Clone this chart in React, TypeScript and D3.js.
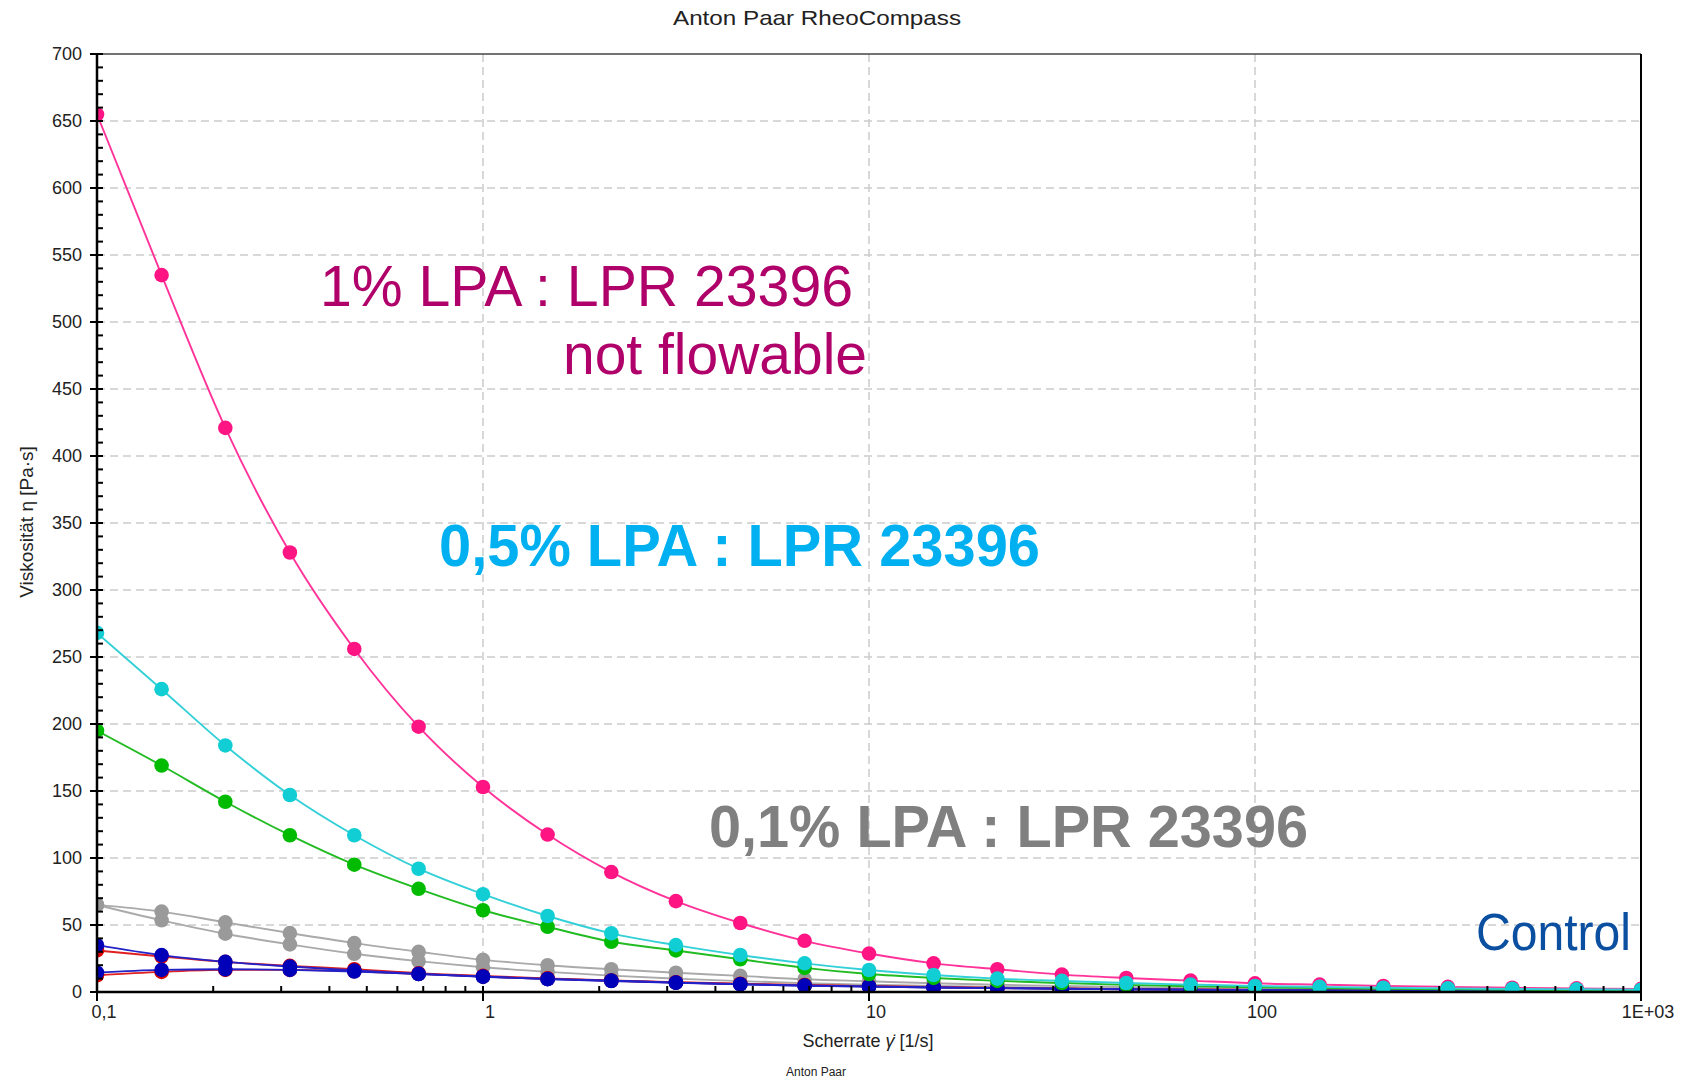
import { useEffect, useRef } from "react";
import * as d3 from "d3";

// shear rates, 6 points per decade
const shearRates = [
	0.1, 0.147, 0.215, 0.316, 0.464, 0.681, 1, 1.47, 2.15, 3.16, 4.64, 6.81, 10,
	14.7, 21.5, 31.6, 46.4, 68.1, 100, 147, 215, 316, 464, 681, 1000,
];

// viscosity values [Pa·s]
const lpa1 = [
	655, 535, 421, 328, 256, 198, 153, 117.5, 89.5, 67.8, 51.5, 38.2, 28.7, 21.4,
	17, 13, 10.5, 8.5, 6.5, 5.5, 4.5, 3.8, 3.2, 2.7, 2.3,
];
const lpa05 = [
	268, 226, 184, 147, 117, 92, 73, 56.7, 43.8, 35, 27.6, 21.4, 16.4, 12.7, 10,
	8.3, 6.7, 5.5, 4.5, 3.8, 3.2, 2.7, 2.3, 2, 1.7,
];
const lpa05b = [
	195, 169, 142, 117, 95, 77, 61, 48.7, 37.5, 31, 24.4, 18, 13.4, 10.5, 8.3,
	6.7, 5.3, 4.3, 3.5, 2.9, 2.4, 2, 1.7, 1.4, 1.2,
];
const lpa01a = [
	65, 60, 52, 44, 36.5, 30, 24, 20, 17, 14.4, 12, 9.5, 8, 6.5, 5.4, 4.5, 3.7,
	3.1, 2.6, 2.2, 1.9, 1.6, 1.4, 1.2, 1,
];
const lpa01b = [
	65, 53.5, 43.5, 35.5, 28.5, 23, 18.5, 15, 12.2, 10, 8.1, 6.6, 5.4, 4.5, 3.7,
	3.1, 2.6, 2.2, 1.8, 1.6, 1.4, 1.2, 1.05, 0.95, 0.85,
];
const controlRedA = [
	31, 26.5, 22.5, 19.5, 17, 14, 12, 10.2, 8.6, 7.3, 6.2, 5.2, 4.4, 3.7, 3.1,
	2.6, 2.2, 1.9, 1.6, 1.4, 1.2, 1.05, 0.95, 0.85, 0.75,
];
const controlRedB = [
	12.5, 15, 16.5, 16.5, 15.5, 13.5, 11.5, 9.9, 8.4, 7.1, 6, 5.1, 4.3, 3.6, 3,
	2.5, 2.1, 1.8, 1.55, 1.35, 1.15, 1, 0.9, 0.8, 0.7,
];
const controlBlueA = [
	35, 27.5, 22.5, 19, 16, 13.5, 11.4, 9.7, 8.5, 7, 5.7, 4.7, 4, 3.4, 2.9, 2.4,
	2, 1.7, 1.45, 1.25, 1.1, 0.95, 0.85, 0.75, 0.65,
];
const controlBlueB = [
	14.5, 16.5, 17, 16.5, 15.3, 13.4, 11.6, 9.6, 8.2, 6.9, 5.8, 4.8, 4.1, 3.4,
	2.9, 2.4, 2, 1.7, 1.4, 1.2, 1.05, 0.95, 0.85, 0.75, 0.65,
];

const yTicks = [0, 50, 100, 150, 200, 250, 300, 350, 400, 450, 500, 550, 600, 650, 700];
const xTicks = [0.1, 1, 10, 100, 1000];
const xTickLabels = ["0,1", "1", "10", "100", "1E+03"];

const FONT = "'Liberation Sans', Arial, sans-serif";

export default function App() {
	const ref = useRef<SVGSVGElement>(null);

	useEffect(() => {
		if (!ref.current) return;
		const svg = d3.select(ref.current);
		svg.selectAll("*").remove();

		const left = 97, right = 1641, top = 54, bottom = 992;
		const x = d3.scaleLog().domain([0.1, 1000]).range([left, right]);
		const y = d3.scaleLinear().domain([0, 700]).range([bottom, top]);

		svg
			.append("defs")
			.append("clipPath")
			.attr("id", "plot-clip")
			.append("rect")
			.attr("x", left)
			.attr("y", top)
			.attr("width", right - left)
			.attr("height", bottom - top);

		// grid
		const grid = svg.append("g").attr("stroke", "#cccccc").attr("stroke-width", 1.5).attr("stroke-dasharray", "8,5");
		grid
			.selectAll("line.h")
			.data(yTicks.filter((d) => d > 0 && d < 700))
			.join("line")
			.attr("x1", left)
			.attr("x2", right)
			.attr("y1", (d) => y(d))
			.attr("y2", (d) => y(d));
		grid
			.selectAll("line.v")
			.data(xTicks.slice(1, -1))
			.join("line")
			.attr("class", "v")
			.attr("x1", (d) => x(d))
			.attr("x2", (d) => x(d))
			.attr("y1", top)
			.attr("y2", bottom);

		// series, drawn back to front
		const series = [
			{ values: lpa01b, line: "#aaaaaa", dot: "#9a9a9a" },
			{ values: lpa01a, line: "#aaaaaa", dot: "#9a9a9a" },
			{ values: controlRedB, line: "#e02020", dot: "#dd0000" },
			{ values: controlRedA, line: "#e02020", dot: "#dd0000" },
			{ values: controlBlueB, line: "#2222c8", dot: "#0000b8" },
			{ values: controlBlueA, line: "#2222c8", dot: "#0000b8" },
			{ values: lpa1, line: "#ff3399", dot: "#ff1483" },
			{ values: lpa05b, line: "#22bb22", dot: "#00bb00" },
			{ values: lpa05, line: "#33d0d8", dot: "#11cdd4" },
		];

		const line = d3
			.line<number>()
			.x((_, i) => x(shearRates[i]))
			.y((d) => y(d))
			.curve(d3.curveMonotoneX);

		const plot = svg.append("g").attr("clip-path", "url(#plot-clip)");
		series.forEach((s) => {
			const g = plot.append("g");
			g.append("path")
				.attr("d", line(s.values))
				.attr("fill", "none")
				.attr("stroke", s.line)
				.attr("stroke-width", 1.9);
			g.selectAll("circle")
				.data(s.values)
				.join("circle")
				.attr("cx", (_, i) => x(shearRates[i]))
				.attr("cy", (d) => y(d))
				.attr("r", 7.3)
				.attr("fill", s.dot);
		});

		// frame
		svg.append("line").attr("x1", left).attr("x2", right).attr("y1", top).attr("y2", top).attr("stroke", "#444").attr("stroke-width", 1.5);
		svg.append("line").attr("x1", right).attr("x2", right).attr("y1", top).attr("y2", bottom).attr("stroke", "#000").attr("stroke-width", 2);
		svg.append("line").attr("x1", left).attr("x2", left).attr("y1", top - 1).attr("y2", bottom + 1).attr("stroke", "#000").attr("stroke-width", 2.5);
		svg.append("line").attr("x1", left - 1).attr("x2", right).attr("y1", bottom).attr("y2", bottom).attr("stroke", "#000").attr("stroke-width", 2.5);

		// y axis ticks
		const axis = svg.append("g").attr("stroke", "#000").attr("stroke-width", 2);
		axis
			.selectAll("line.ymin")
			.data(d3.range(10, 700, 10).filter((d) => d % 50 !== 0))
			.join("line")
			.attr("x1", left)
			.attr("x2", left + 6)
			.attr("y1", (d) => y(d))
			.attr("y2", (d) => y(d));
		axis
			.selectAll("line.ymaj")
			.data(yTicks)
			.join("line")
			.attr("class", "ymaj")
			.attr("x1", left - 7)
			.attr("x2", left + 6)
			.attr("y1", (d) => y(d))
			.attr("y2", (d) => y(d));

		// x axis ticks
		const minorX: number[] = [];
		xTicks.slice(0, -1).forEach((d) => {
			for (let k = 2; k <= 9; k++) minorX.push(d * k);
		});
		axis
			.selectAll("line.xmin")
			.data(minorX)
			.join("line")
			.attr("class", "xmin")
			.attr("x1", (d) => x(d))
			.attr("x2", (d) => x(d))
			.attr("y1", bottom)
			.attr("y2", bottom - 6);
		axis
			.selectAll("line.xmaj")
			.data(xTicks)
			.join("line")
			.attr("class", "xmaj")
			.attr("x1", (d) => x(d))
			.attr("x2", (d) => x(d))
			.attr("y1", bottom - 6)
			.attr("y2", bottom + 9);

		svg
			.append("g")
			.attr("font-family", FONT)
			.attr("font-size", 18)
			.attr("fill", "#222")
			.attr("text-anchor", "end")
			.selectAll("text")
			.data(yTicks)
			.join("text")
			.attr("x", left - 15)
			.attr("y", (d) => y(d) + 6)
			.text((d) => d);

		svg
			.append("g")
			.attr("font-family", FONT)
			.attr("font-size", 18)
			.attr("fill", "#222")
			.attr("text-anchor", "middle")
			.selectAll("text")
			.data(xTicks)
			.join("text")
			.attr("x", (d) => x(d) + 7)
			.attr("y", bottom + 26)
			.text((_, i) => xTickLabels[i]);

		// titles
		svg.append("text")
			.attr("x", 817).attr("y", 25)
			.attr("text-anchor", "middle")
			.attr("font-family", FONT).attr("font-size", 21).attr("fill", "#222")
			.attr("textLength", 288).attr("lengthAdjust", "spacingAndGlyphs")
			.text("Anton Paar RheoCompass");

		const xl = svg.append("text")
			.attr("x", 868).attr("y", 1047)
			.attr("text-anchor", "middle")
			.attr("font-family", FONT).attr("font-size", 18).attr("fill", "#222");
		xl.append("tspan").text("Scherrate ");
		xl.append("tspan").attr("font-style", "italic").text("\u03b3\u0307");
		xl.append("tspan").text("  [1/s]");

		svg.append("text")
			.attr("transform", "translate(33,522) rotate(-90)")
			.attr("text-anchor", "middle")
			.attr("font-family", FONT).attr("font-size", 19).attr("fill", "#222")
			.text("Viskosität η  [Pa·s]");

		svg.append("text")
			.attr("x", 816).attr("y", 1076)
			.attr("text-anchor", "middle")
			.attr("font-family", FONT).attr("font-size", 12).attr("fill", "#222")
			.text("Anton Paar");

		// annotations
		const note = (tx: string, nx: number, ny: number, size: number, len: number, color: string, bold = false) =>
			svg.append("text")
				.attr("x", nx).attr("y", ny)
				.attr("font-family", FONT).attr("font-size", size)
				.attr("font-weight", bold ? "bold" : "normal")
				.attr("fill", color)
				.attr("textLength", len).attr("lengthAdjust", "spacingAndGlyphs")
				.text(tx);

		note("1% LPA : LPR 23396", 320, 306, 58, 533, "#b0006a");
		note("not flowable", 563, 374, 58, 304, "#b0006a");
		note("0,5% LPA : LPR 23396", 439, 566, 60, 601, "#00b0f0", true);
		note("0,1% LPA : LPR 23396", 709, 847, 60, 599, "#808080", true);
		note("Control", 1476, 950, 52, 155, "#0b4fa0");
	}, []);

	return (
		<svg
			ref={ref}
			width={1681}
			height={1080}
			style={{ position: "absolute", left: 0, top: 0, background: "#fff" }}
		/>
	);
}
